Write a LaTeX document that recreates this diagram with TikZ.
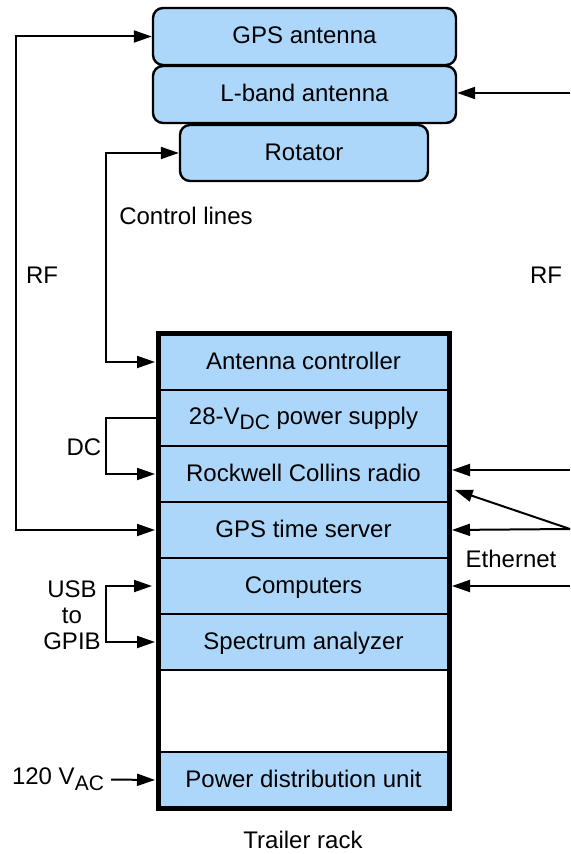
\documentclass[tikz,border=0pt]{standalone}
\usepackage{fontspec}
\setmainfont{Liberation Sans}
\usetikzlibrary{positioning,arrows.meta}
\definecolor{boxblue}{RGB}{173,215,250}
\newcommand{\lowsub}[1]{\raisebox{-0.45ex}{\fontsize{10.5}{12}\selectfont #1}}

\begin{document}
\begin{tikzpicture}[
x=0.5pt, y=-0.5pt,
font=\fontsize{12}{13}\selectfont,
>={Triangle[length=9pt,width=6pt]},
antenna/.style={
draw,
line width=1.2pt,
fill=boxblue,
rounded corners=5pt,
minimum width=151.5pt,
minimum height=28.5pt,
inner sep=0pt,
text height=9pt,
text depth=1.5pt
},
slot/.style={
draw,
line width=0.6pt,
fill=boxblue,
minimum width=145.5pt,
minimum height=28pt,
inner sep=0pt,
outer sep=0pt,
text height=9pt,
text depth=1.5pt
},
link/.style={line width=1pt},
rackend/.style={shorten >=1.5pt}
]

\useasboundingbox (0,0) rectangle (570,854);

\node[antenna] (gps) at (304.5,36.5)
{GPS antenna};

\node[antenna] (lband) at (304.5,94.5)
{L-band antenna};

\node[antenna, minimum width=124pt, minimum height=28pt] (rot) at (304,153)
{Rotator};

\node[slot] (ctrl) at (303.5,362)
{Antenna controller};

\node[slot, below=0pt of ctrl, text depth=3pt] (psu)
{28-V\lowsub{DC} power supply};

\node[slot, below=0pt of psu] (rcr)
{Rockwell Collins radio};

\node[slot, below=0pt of rcr] (gts)
{GPS time server};

\node[slot, below=0pt of gts] (comp)
{Computers};

\node[slot, below=0pt of comp] (spec)
{Spectrum analyzer};

\node[slot, fill=white, minimum height=41pt, below=0pt of spec] (spare)
{};

\node[slot, below=0pt of spare] (pdu)
{Power distribution unit};

\draw[line width=2.5pt] (ctrl.north west) rectangle (pdu.south east);

\node (rfa) at (42,275) {RF};
\node (rfb) at (546,275) {RF};
\node (ctl) at (186,216) {Control lines};
\node (dc) at (84,447) {DC};
\node[align=center] (usb) at (72,615) {USB\\to\\GPIB};
\node (ethl) at (511,559) {Ethernet};
\node (vac) at (58,779) {120 V\lowsub{AC}};
\node (rack) at (303,840) {Trailer rack};

\coordinate (rfl) at (16,0);
\coordinate (cl) at (106,0);
\coordinate (rfr) at (570,93);
\coordinate (e1) at (570,470);
\coordinate (eth) at (570,529);
\coordinate (e3) at (570,586);

\draw[link,<->,rackend] (gps.west) -- (gps.west -| rfl) |- (gts.west);
\draw[link,<->,rackend] (rot.west) -- (rot.west -| cl) |- (ctrl.west);
\draw[link,->,rackend] (psu.west) -- (psu.west -| cl) |- (rcr.west);
\draw[link,<->,rackend,shorten <=3pt] (comp.west) -- (comp.west -| cl) |- (spec.west);
\draw[link,->,rackend] (vac) -- (pdu.west);

\draw[link,->] (rfr) -- (rfr -| lband.east);
\draw[link,->,rackend] (e1) -- (e1 -| rcr.east);
\draw[link,->,shorten >=3pt] (eth) -- ([yshift=-7pt]rcr.east);
\draw[link,->,rackend] (eth) -- (gts.east);
\draw[link,->,rackend] (e3) -- (e3 -| comp.east);

\end{tikzpicture}
\end{document}
